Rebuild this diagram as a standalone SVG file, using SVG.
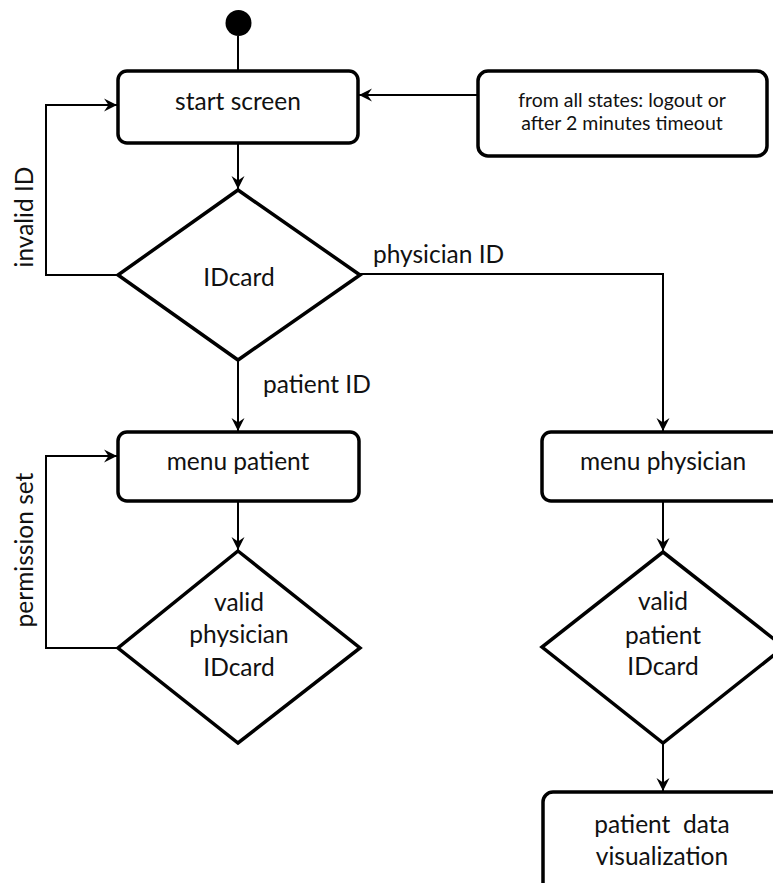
<svg xmlns="http://www.w3.org/2000/svg" width="773" height="883" viewBox="0 0 773 883">
  <defs>
    <marker id="arrow" markerUnits="userSpaceOnUse" markerWidth="16" markerHeight="16" viewBox="-15 -8 16 16" refX="0" refY="0" orient="auto">
      <path d="M0,0 L-13,-6.5 L-8.5,0 L-13,6.5 Z" fill="#000"/>
    </marker>
  </defs>
  <style>
    .node { fill: #fff; stroke: #000; stroke-width: 3.5; }
    .edge { fill: none; stroke: #000; stroke-width: 2; }
    .lbl { font-family: Lato, "Open Sans", sans-serif; font-size: 24.5px; fill: #111; }
    .mid { text-anchor: middle; }
    .small { font-size: 19.5px; }
  </style>
  <rect width="773" height="883" fill="#fff"/>

  <!-- connectors -->
  <g id="connectors">
    <path class="edge" d="M238,36 L238,71"/>
    <path class="edge" d="M238,143 L238,189" marker-end="url(#arrow)"/>
    <path class="edge" d="M478,95 L359,95" marker-end="url(#arrow)"/>
    <path class="edge" d="M118,275 L46,275 L46,105 L117,105" marker-end="url(#arrow)"/>
    <path class="edge" d="M360,274 L663,274 L663,431" marker-end="url(#arrow)"/>
    <path class="edge" d="M238,360 L238,431" marker-end="url(#arrow)"/>
    <path class="edge" d="M238,501 L238,550" marker-end="url(#arrow)"/>
    <path class="edge" d="M118,648 L46,648 L46,456 L117,456" marker-end="url(#arrow)"/>
    <path class="edge" d="M663,501 L663,551" marker-end="url(#arrow)"/>
    <path class="edge" d="M663,743 L663,791" marker-end="url(#arrow)"/>
    <text class="lbl" transform="translate(33,217) rotate(-90)" text-anchor="middle">invalid ID</text>
    <text class="lbl" x="373" y="263">physician ID</text>
    <text class="lbl" x="263" y="393">patient ID</text>
    <text class="lbl" transform="translate(33,550) rotate(-90)" text-anchor="middle">permission set</text>
  </g>

  <g id="initial">
    <circle cx="238.5" cy="23" r="13" fill="#000"/>
  </g>

  <g id="start-screen">
    <rect class="node" x="118" y="71" width="240" height="72" rx="9"/>
    <text class="lbl mid" x="238" y="110">start screen</text>
  </g>

  <g id="timeout-note">
    <rect class="node" x="478" y="71" width="289" height="85" rx="10"/>
    <text class="lbl mid small" x="622" y="107">from all states: logout or</text>
    <text class="lbl mid small" x="622" y="130">after 2 minutes timeout</text>
  </g>

  <g id="idcard">
    <polygon class="node" points="238,190 360,275 238,360 118,275"/>
    <text class="lbl mid" x="239" y="286">IDcard</text>
  </g>

  <g id="menu-patient">
    <rect class="node" x="118" y="432" width="241" height="69" rx="9"/>
    <text class="lbl mid" x="238" y="470">menu patient</text>
  </g>

  <g id="menu-physician">
    <rect class="node" x="542" y="432" width="250" height="69" rx="9"/>
    <text class="lbl mid" x="663" y="470">menu physician</text>
  </g>

  <g id="valid-physician">
    <polygon class="node" points="238,551 360,648 238,743 118,648"/>
    <text class="lbl mid" x="239" y="611">valid</text>
    <text class="lbl mid" x="239" y="643">physician</text>
    <text class="lbl mid" x="239" y="676">IDcard</text>
  </g>

  <g id="valid-patient">
    <polygon class="node" points="663,552 784,647 663,743 542,647"/>
    <text class="lbl mid" x="663" y="610">valid</text>
    <text class="lbl mid" x="663" y="644">patient</text>
    <text class="lbl mid" x="663" y="675">IDcard</text>
  </g>

  <g id="patient-data">
    <rect class="node" x="543" y="792" width="250" height="110" rx="10"/>
    <text class="lbl mid" x="662" y="833" xml:space="preserve">patient  data</text>
    <text class="lbl mid" x="662" y="865">visualization</text>
  </g>
</svg>
